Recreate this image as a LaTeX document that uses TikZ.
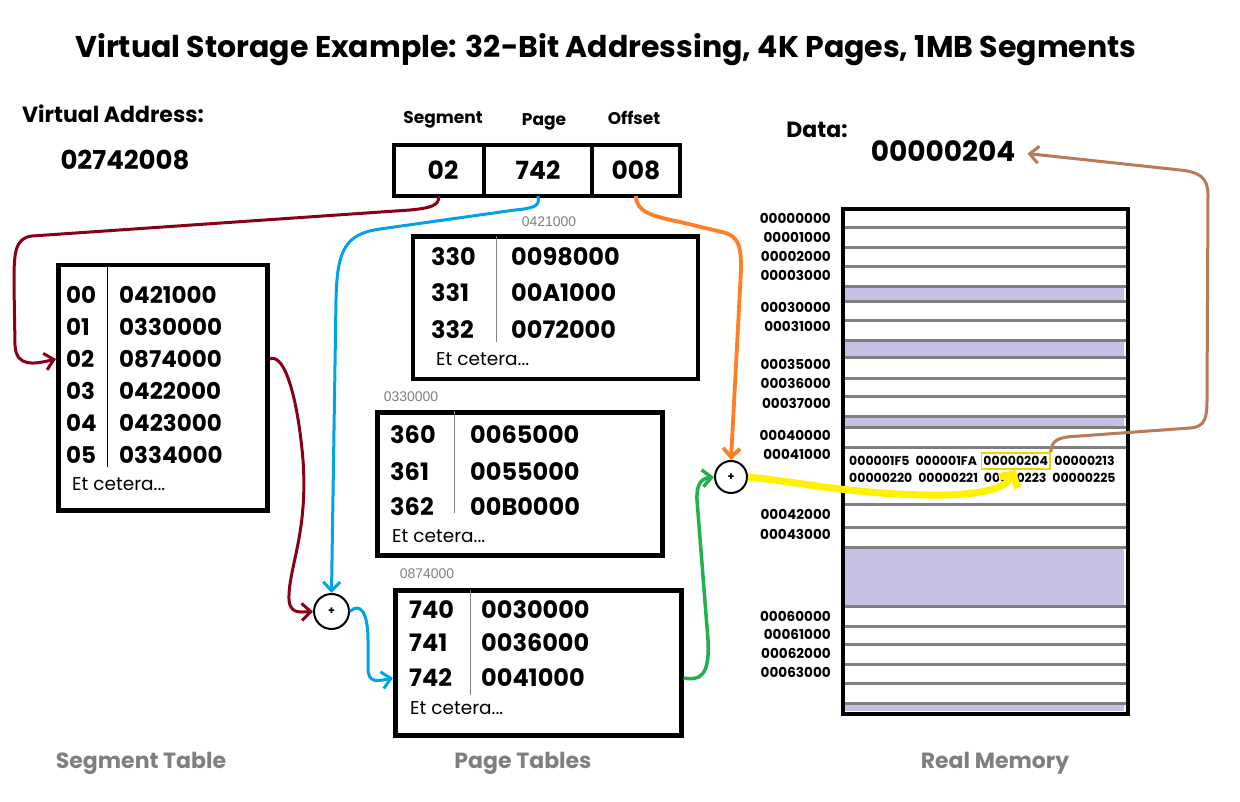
\documentclass[tikz,border=0pt]{standalone}
\usepackage{fontspec}
\setmainfont{Poppins}
\newfontfamily\addrfont{Liberation Sans}
\usetikzlibrary{arrows.meta,positioning}

\definecolor{segred}{RGB}{136,0,21}
\definecolor{pageblue}{RGB}{0,162,232}
\definecolor{offorange}{RGB}{255,127,39}
\definecolor{framegreen}{RGB}{34,177,76}
\definecolor{hiyellow}{RGB}{255,242,0}
\definecolor{boxyellow}{RGB}{235,215,0}
\definecolor{databrown}{RGB}{185,122,87}
\definecolor{usedpurple}{RGB}{200,191,231}
\definecolor{linegray}{RGB}{127,127,127}

\begin{document}
\begin{tikzpicture}[x=1pt,y=-1pt,
    bigtitle/.style={anchor=base,inner sep=0pt,font=\fontsize{30}{35}\selectfont\bfseries},
    headtext/.style={anchor=base,inner sep=0pt,font=\fontsize{22}{26}\selectfont\bfseries},
    fieldname/.style={anchor=base,inner sep=0pt,font=\fontsize{17}{20}\selectfont\bfseries},
    bignum/.style={anchor=base,inner sep=0pt,font=\fontsize{26}{30}\selectfont\bfseries},
    tablebox/.style={draw,line width=4.5pt,anchor=north west,inner sep=0pt},
    vacell/.style={draw,line width=4.3pt,outer sep=0pt,inner sep=0pt,minimum height=51pt,
        font=\fontsize{25}{30}\selectfont\bfseries},
    cellentry/.style={anchor=west,inner sep=0pt,font=\fontsize{24}{28}\selectfont\bfseries},
    etcetera/.style={anchor=west,inner sep=0pt,font=\fontsize{18.5}{22}\selectfont},
    tableaddr/.style={inner sep=0pt,text=linegray,font=\addrfont\fontsize{14}{16}\selectfont},
    memaddr/.style={anchor=east,inner sep=0pt,font=\fontsize{13.6}{16}\selectfont\bfseries},
    memword/.style={inner xsep=2pt,inner ysep=3.5pt,font=\fontsize{12.5}{14}\selectfont\bfseries},
    memline/.style={draw=linegray,line width=3pt},
    adder/.style={circle,draw,line width=2pt,inner sep=0pt,font=\fontsize{11}{12}\selectfont\bfseries},
    bottomlabel/.style={anchor=base,inner sep=0pt,text=linegray,font=\fontsize{22}{26}\selectfont\bfseries},
    arrowline/.style={line width=3pt,-{Straight Barb[length=9pt,width=17pt]}},
]
\useasboundingbox (0,0) rectangle (1240,802);

% headings
\node[bigtitle] (title) at (606,58) {Virtual Storage Example: 32-Bit Addressing, 4K Pages, 1MB Segments};
\node[headtext] (vaname) at (113,123) {Virtual Address:};
\node[bignum] (vaddr) at (125,170) {02742008};
\node[headtext] (dataname) at (817,138) {Data:};
\node[bignum,font=\fontsize{28}{32}\selectfont\bfseries] (result) at (943,162) {00000204};

% the virtual address split in three
\node[fieldname] (segname) at (443,124) {Segment};
\node[fieldname] (pagename) at (544,126) {Page};
\node[fieldname] (offname) at (634,125) {Offset};
\node[vacell,minimum width=90pt,anchor=north west] (cseg) at (394,145) {\hspace{8pt}02};
\node[vacell,minimum width=108pt,right=0pt of cseg] (cpage) {742};
\node[vacell,minimum width=88pt,right=0pt of cpage] (coff) {008};

% segment table
\node[tablebox,minimum width=209pt,minimum height=245pt] (segtab) at (56,263) {};
\draw (107,265) -- (107,467);
\foreach \n/\v/\y in {00/0421000/295,01/0330000/327,02/0874000/359,03/0422000/391,04/0423000/423,05/0334000/455}{
    \node[cellentry,font=\fontsize{23}{27}\selectfont\bfseries] (s\n) at (66,\y) {\n};
    \node[cellentry,font=\fontsize{23}{27}\selectfont\bfseries] (sv\n) at (119,\y) {\v};
}
\node[etcetera] (setc) at (72,484) {Et cetera...};

% page tables
\node[tableaddr] (pt1addr) at (549,222) {0421000};
\node[tablebox,minimum width=285pt,minimum height=142pt] (pt1) at (410.5,234.5) {};
\draw[linegray] (496,236) -- (496,342);
\foreach \n/\v/\y in {330/0098000/257,331/00A1000/293,332/0072000/330}{
    \node[cellentry] (p\n) at (431,\y) {\n};
    \node[cellentry] (pv\n) at (511,\y) {\v};
}
\node[etcetera] (p1etc) at (436,359) {Et cetera...};

\node[tableaddr] (pt2addr) at (411,397) {0330000};
\node[tablebox,minimum width=285pt,minimum height=143pt] (pt2) at (375,410) {};
\draw[linegray] (454,411) -- (454,513);
\foreach \n/\v/\y in {360/0065000/435,361/0055000/472,362/00B0000/507}{
    \node[cellentry] (p\n) at (390,\y) {\n};
    \node[cellentry] (pv\n) at (470,\y) {\v};
}
\node[etcetera] (p2etc) at (392,536) {Et cetera...};

\node[tableaddr] (pt3addr) at (427,574) {0874000};
\node[tablebox,minimum width=286pt,minimum height=145pt] (pt3) at (393,588) {};
\draw[linegray] (470,590) -- (470,695);
\foreach \n/\v/\y in {740/0030000/610,741/0036000/643,742/0041000/678}{
    \node[cellentry] (p\n) at (409,\y) {\n};
    \node[cellentry] (pv\n) at (481,\y) {\v};
}
\node[etcetera] (p3etc) at (410,708) {Et cetera...};

% real memory
\fill[usedpurple] (843,287) rectangle (1124,302);
\fill[usedpurple] (843,341) rectangle (1124,358);
\fill[usedpurple] (843,416) rectangle (1124,427);
\fill[usedpurple] (843,547) rectangle (1124,606);
\fill[usedpurple] (843,703) rectangle (1124,711);
\foreach \y in {228,248,267,287,302,321,341,358,378,396,416,427,447,504,527,547,606,626,644,664,683,703}
    \draw[memline] (842,\y) -- (1127,\y);
\node[draw,line width=4pt,anchor=north west,inner sep=0pt,minimum width=285pt,minimum height=505pt] (mem) at (841,207) {};
\foreach \y/\t in {218/00000000,237/00001000,256/00002000,275/00003000,307/00030000,326/00031000,
    364/00035000,383/00036000,403/00037000,435/00040000,454/00041000,514/00042000,534/00043000,
    616/00060000,634/00061000,653/00062000,672/00063000}
    \node[memaddr] (m\t) at (831,\y) {\t};

\node[memword,anchor=west] (d1) at (847,461) {000001F5};
\node[memword,right=1.5pt of d1] (d2) {000001FA};
\node[memword,draw=boxyellow,line width=1.5pt,right=1.5pt of d2] (d3) {00000204};
\node[memword,right=1.5pt of d3] (d4) {00000213};
\node[memword,anchor=west] (d5) at (847,478) {00000220};
\node[memword,right=1.5pt of d5] (d6) {00000221};
\node[memword,right=1.5pt of d6] (d7) {00000223};
\node[memword,right=1.5pt of d7] (d8) {00000225};

% adders
\node[adder,minimum size=35pt] (add1) at (331.5,611.5) {+};
\node[adder,minimum size=32pt] (add2) at (731,477) {+};

% connectors
\draw[arrowline,segred] (cseg.south) .. controls (439,206) and (430,208) .. (410,210)
    -- (32,236) .. controls (14,238) and (14,255) .. (14,285)
    -- (15,345) .. controls (16,368) and (35,364) .. (s02 -| segtab.west);
\draw[arrowline,segred] (s02 -| segtab.east) .. controls (285,352) and (298,400) .. (303,460)
    .. controls (308,530) and (290,565) .. (289,595) .. controls (288,615) and (300,612) .. (add1.west);
\draw[arrowline,pageblue] (cpage.south) .. controls (540,206) and (535,208) .. (515,210)
    -- (380,229) .. controls (345,234) and (337,250) .. (336,300) -- (add1.north);
\draw[arrowline,pageblue] (add1.east) .. controls (360,602) and (368,612) .. (368,640)
    -- (368,668) .. controls (368,684) and (378,681) .. (p742 -| pt3.west);
\draw[arrowline,framegreen,line width=3.5pt] (p742 -| pt3.east) .. controls (700,681) and (710,676) .. (708,640)
    -- (697,500) .. controls (696,480) and (705,478) .. (add2.west);
\draw[arrowline,offorange,line width=3.8pt] (coff.south) .. controls (636,212) and (652,216) .. (680,222)
    -- (722,232) .. controls (740,236) and (741,248) .. (741,270) -- (add2.north);
\draw[line width=7pt,hiyellow,-{Straight Barb[length=10pt,width=22pt]}] (add2.east)
    .. controls (800,482) and (860,496) .. (945,495) .. controls (985,494) and (1005,488) .. (d3.south);
\draw[arrowline,databrown] (d3.north east) .. controls (1052,440) and (1057,437) .. (1080,436)
    -- (1190,428) .. controls (1205,427) and (1207,418) .. (1207,400) -- (1208,195)
    .. controls (1208,178) and (1200,172) .. (1180,170) -- ([xshift=12pt,yshift=-2pt]result.east);

% captions
\node[bottomlabel] (segcap) at (141,768) {Segment Table};
\node[bottomlabel] (pagecap) at (523,768) {Page Tables};
\node[bottomlabel] (memcap) at (995,768) {Real Memory};
\end{tikzpicture}
\end{document}
